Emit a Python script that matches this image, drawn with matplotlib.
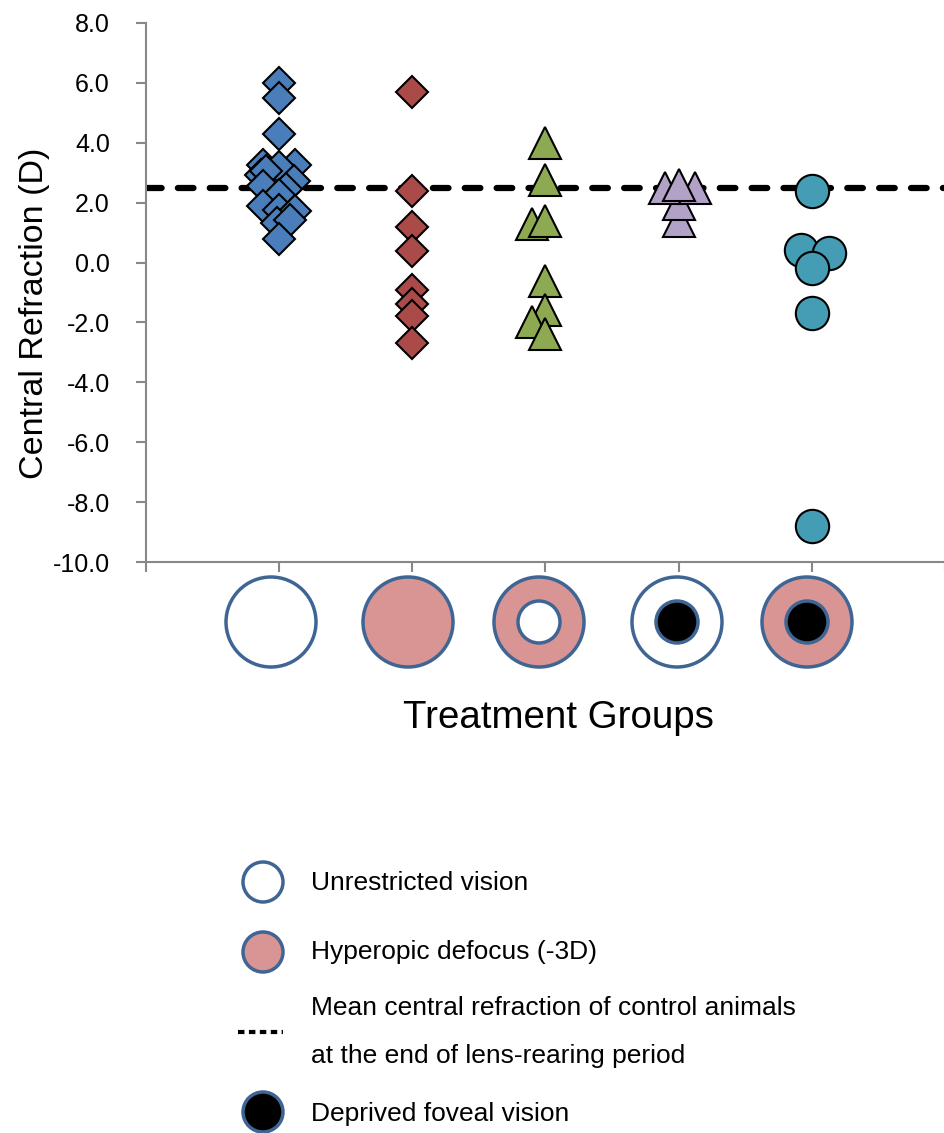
import matplotlib
matplotlib.use("Agg")
import matplotlib.pyplot as plt
from matplotlib.patches import Circle

plt.rcParams['font.family'] = ['Liberation Sans', 'DejaVu Sans']
plt.rcParams['axes.unicode_minus'] = False

# central refraction per animal (D), x = group position (small offsets as plotted)
unres_x = [1.0, 1.0, 1.0, 0.88, 1.12, 0.86, 1.0, 0.9, 1.11, 0.88, 1.05, 1.0, 0.88, 1.0, 1.12, 0.98, 1.08, 1.0]
unres_y = [6.0, 5.5, 4.3, 3.27, 3.27, 2.93, 3.19, 3.05, 2.71, 2.54, 2.45, 2.27, 1.88, 1.77, 1.71, 1.32, 1.43, 0.77]

hyper_x = [2.0, 2.0, 2.0, 2.0, 2.0, 2.0, 2.0, 2.0]
hyper_y = [5.7, 2.4, 1.2, 0.4, -0.9, -1.4, -1.8, -2.7]

ring_x = [3.0, 3.0, 2.9, 3.0, 3.0, 3.0, 2.9, 3.0]
ring_y = [4.0, 2.75, 1.3, 1.4, -0.6, -1.6, -2.0, -2.4]

fovea_x = [4.0, 4.0, 3.9, 4.12, 4.0]
fovea_y = [1.4, 1.95, 2.5, 2.5, 2.6]

both_x = [5.0, 4.92, 5.13, 5.0, 5.0, 5.0]
both_y = [2.4, 0.43, 0.32, -0.18, -1.68, -8.8]

control_mean = 2.5

fig = plt.figure(figsize=(9.45, 11.33), dpi=100)
ax = fig.add_axes([146/945, 571/1133, 799/945, 539/1133])

kw = dict(linestyle='none', markeredgecolor='black', markeredgewidth=1.5)
ax.plot(unres_x, unres_y, marker='D', markersize=16, markerfacecolor='#4A7EBB', **kw)
ax.plot(hyper_x, hyper_y, marker='D', markersize=16, markerfacecolor='#AA4B4A', **kw)
ax.plot(ring_x, ring_y, marker='^', markersize=23.5, markerfacecolor='#8DAA52', **kw)
ax.plot(fovea_x, fovea_y, marker='^', markersize=23.5, markerfacecolor='#B3A2C7', **kw)
ax.plot(both_x, both_y, marker='o', markersize=24, markerfacecolor='#449DB4', **kw)

ax.plot([0, 6], [control_mean, control_mean], color='black', linewidth=4.5,
        dashes=(2.5, 2.6), dash_capstyle='round', zorder=1)

ax.set_xlim(0, 6)
ax.set_ylim(-10, 8)
ax.set_yticks(range(-10, 9, 2))
ax.set_yticklabels(['%.1f' % v for v in range(-10, 9, 2)], fontsize=18)
ax.set_xticks(range(0, 7))
ax.set_xticklabels([])
for s in ['top', 'right']:
    ax.spines[s].set_visible(False)
for s in ['left', 'bottom']:
    ax.spines[s].set_color('#888888')
    ax.spines[s].set_linewidth(1.5)
ax.tick_params(colors='#888888', labelcolor='black', length=7, width=1.5)
ax.tick_params(axis='y', pad=19)

fig.text(35/945, 1 - 313/1133, 'Central Refraction (D)', rotation=90,
         fontsize=24.5, ha='center', va='center')

# overlay in pixel coords for the treatment icons and the key
ov = fig.add_axes([0, 0, 1, 1])
ov.set_xlim(0, 945)
ov.set_ylim(1133, 0)
ov.axis('off')

edge = '#3E6593'
pink = '#D99594'
icon_x = [271, 408, 539, 677, 807]
outer_fill = ['white', pink, pink, 'white', pink]
inner_fill = [None, None, 'white', 'black', 'black']
for cx, of, inf in zip(icon_x, outer_fill, inner_fill):
    ov.add_patch(Circle((cx, 622), 45, facecolor=of, edgecolor=edge, linewidth=2.5))
    if inf is not None:
        ov.add_patch(Circle((cx, 622), 21, facecolor=inf, edgecolor=edge, linewidth=2.5))

ov.text(558, 718, 'Treatment Groups', fontsize=27.7, ha='center', va='center')

key_x = 263
ov.add_patch(Circle((key_x, 882), 20, facecolor='white', edgecolor=edge, linewidth=2.5))
ov.add_patch(Circle((key_x, 952), 20, facecolor=pink, edgecolor=edge, linewidth=2.5))
ov.add_patch(Circle((key_x, 1112), 20, facecolor='black', edgecolor=edge, linewidth=2.5))
ov.plot([238, 283], [1032, 1032], color='black', linewidth=3, dashes=(1.55, 1.07))

tx = 311
fs = 19
ov.text(tx, 883, 'Unrestricted vision', fontsize=fs, va='center')
ov.text(tx, 952, 'Hyperopic defocus (-3D)', fontsize=fs, va='center')
ov.text(tx, 1008, 'Mean central refraction of control animals', fontsize=fs, va='center')
ov.text(tx, 1056, 'at the end of lens-rearing period', fontsize=fs, va='center')
ov.text(tx, 1114, 'Deprived foveal vision', fontsize=fs, va='center')

fig.savefig('out.png', dpi=100)
